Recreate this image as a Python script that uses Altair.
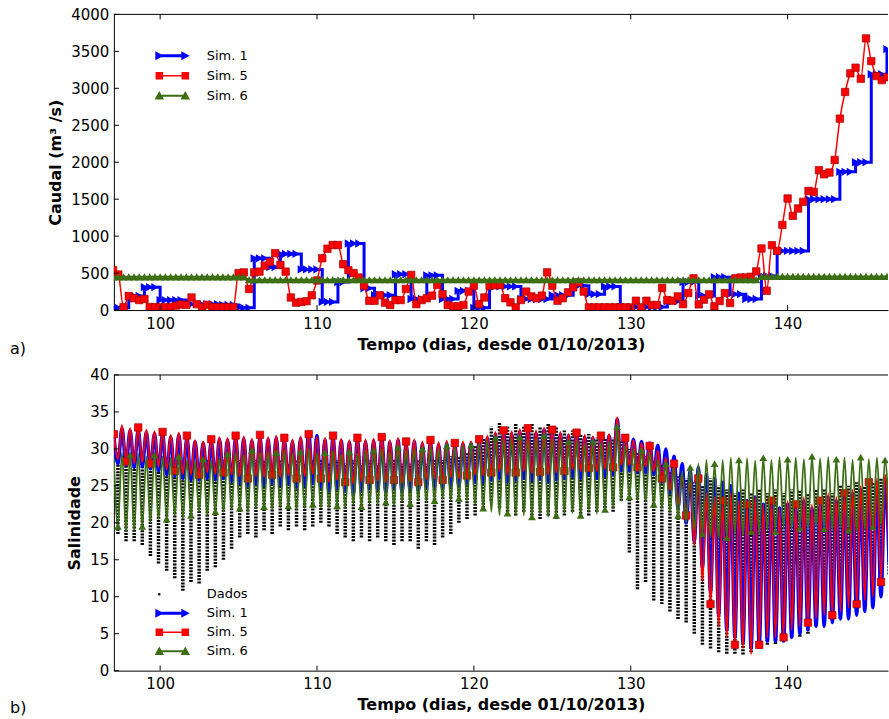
import altair as alt
import pandas as pd

# ---------------- shared ----------------
X_DOMAIN = [97.05, 146.4]
x_ticks = [100, 110, 120, 130, 140]
q_ticks = [0, 500, 1000, 1500, 2000, 2500, 3000, 3500, 4000]
s_ticks = [0, 5, 10, 15, 20, 25, 30, 35, 40]
series = ["Sim. 1", "Sim. 5", "Sim. 6"]
series_b = ["Dados", "Sim. 1", "Sim. 5", "Sim. 6"]
BLUE, RED, GREEN, BLACK = "#0000ff", "#ff0000", "#3c6e14", "#000000"
FONT = "DejaVu Sans"

# ---------------- panel a): Caudal, one sample every 1/3 day from day 97 ----------------
q_start = 97.0
q_step = 1.0 / 3.0
q_sim1 = ([30]*3 + [190]*3 + [310]*3 + [135]*5 + [80]*7 + [70]*3 + [30]*3 + [700]*3 + [580]*2
          + [760]*4 + [550]*4 + [110]*3 + [380]*2 + [900]*3 + [295]*2 + [200]*4 + [485]*3 + [150]*3
          + [470]*3 + [150]*3 + [260]*3 + [30]*3 + [320]*6 + [150]*6 + [200]*4 + [330]*3 + [215]*3
          + [320]*3 + [40]*9 + [120]*3 + [380]*3 + [190]*3 + [445]*3 + [215]*3 + [150]*3 + [460]*3
          + [800]*6 + [1500]*6 + [1870]*3 + [2000]*3 + [3190]*3 + [3530]*1)
q_sim5 = [540, 480, 40, 190, 160, 135, 150, 40, 40, 40, 40, 40, 60, 75, 70, 170, 80, 40, 70, 40,
          40, 40, 40, 40, 500, 510, 285, 510, 520, 600, 650, 770, 610, 520, 170, 100, 110, 120, 200, 400,
          700, 830, 880, 880, 620, 540, 500, 440, 330, 126, 126, 200, 100, 68, 135, 135, 285, 475, 80, 135,
          160, 195, 340, 215, 68, 50, 50, 68, 250, 330, 80, 170, 330, 335, 340, 160, 104, 36, 135, 250,
          185, 160, 195, 510, 330, 126, 160, 240, 307, 374, 250, 36, 36, 36, 36, 36, 36, 36, 36, 36,
          126, 36, 126, 68, 68, 300, 135, 126, 185, 80, 230, 430, 77, 140, 212, 50, 122, 230, 95, 430,
          440, 440, 450, 523, 833, 261, 878, 801, 1152, 1509, 1274, 1374, 1464, 1612, 1598, 1891, 1837, 1860, 2031, 2590,
          2950, 3202, 3279, 3130, 3675, 3368, 3165, 3111, 3150]
q_sim6 = [450]*26 + [410]*98 + [455]*25
assert len(q_sim1) == len(q_sim5) == len(q_sim6) == 149
q_t = [q_start + i * q_step for i in range(len(q_sim1))]

# ---------------- panel b): Salinidade, tidal highs / lows (M2 half-cycles) ----------------
s_start = 97.05
s_period = 0.5175
s_sim1_high = [31.8, 32.8, 32.5, 32.6, 32.3, 32.1, 32.0, 31.6, 31.9, 31.5, 31.0, 30.8,
               31.0, 31.3, 31.2, 31.5, 31.4, 31.1, 31.6, 31.3, 31.5, 31.2, 31.0, 31.4,
               32.2, 31.8, 31.2, 31.5, 31.1, 30.9, 31.2, 31.0, 31.1, 31.3, 30.9, 31.2,
               30.7, 31.0, 30.7, 30.9, 30.6, 30.8, 30.5, 30.7, 30.8, 31.0, 31.5, 32.0,
               32.2, 32.1, 32.4, 32.5, 32.2, 32.6, 32.3, 32.0, 31.8, 31.9, 31.6, 31.5,
               31.5, 31.8, 34.0, 31.5, 31.3, 31.0, 30.8, 30.5, 30.0, 29.0, 28.0, 27.0,
               27.5, 26.5, 26.0, 25.5, 25.0, 24.0, 23.0, 23.5, 22.5, 23.0, 22.0, 22.5,
               22.0, 23.0, 22.0, 22.5, 23.5, 23.0, 23.5, 24.0, 24.5, 25.0, 25.5, 26.0]
s_sim1_low = [28.0, 27.8, 27.5, 27.6, 27.3, 27.0, 26.5, 26.3, 26.0, 25.8, 25.8, 26.0,
              25.8, 26.0, 25.6, 25.3, 25.0, 25.2, 25.0, 25.3, 25.0, 25.2, 24.8, 25.0,
              25.3, 24.8, 24.3, 24.6, 24.3, 24.0, 24.4, 24.6, 24.5, 24.2, 24.6, 24.2,
              24.4, 24.3, 24.7, 24.8, 24.6, 25.0, 25.0, 25.3, 25.5, 25.4, 25.8, 26.0,
              25.5, 25.8, 26.0, 25.7, 25.9, 25.5, 25.8, 26.0, 26.2, 26.0, 26.4, 26.0,
              26.3, 26.5, 27.0, 27.0, 26.8, 26.8, 26.5, 25.5, 24.0, 22.0, 20.0, 17.5,
              14.0, 10.5, 7.5, 5.5, 4.5, 3.8, 3.0, 3.5, 4.0, 4.0, 4.0, 4.5,
              5.0, 5.5, 6.0, 6.0, 6.5, 7.0, 7.0, 7.5, 8.0, 8.5, 10.0, 14.5]
s_sim5_high = [32.0, 33.2, 32.8, 32.9, 32.6, 32.4, 32.3, 31.9, 32.2, 31.8, 31.2, 31.0,
               31.3, 31.6, 31.5, 31.8, 31.7, 31.4, 31.9, 31.6, 31.8, 31.5, 31.3, 31.7,
               32.0, 31.6, 31.5, 31.8, 31.4, 31.2, 31.5, 31.3, 31.4, 31.6, 31.2, 31.5,
               31.0, 31.3, 31.0, 31.2, 30.9, 31.1, 30.8, 31.0, 31.0, 31.3, 31.8, 32.3,
               32.5, 32.4, 32.7, 32.8, 32.5, 32.9, 32.6, 32.3, 32.0, 32.2, 31.9, 31.7,
               31.8, 32.0, 34.3, 31.5, 31.2, 30.8, 30.4, 29.8, 28.8, 28.0, 26.5, 25.5,
               26.0, 24.0, 23.5, 23.0, 24.0, 23.0, 22.5, 23.5, 22.5, 23.0, 22.0, 23.0,
               22.5, 23.5, 22.5, 23.0, 24.0, 23.5, 24.0, 24.5, 25.0, 25.5, 26.0, 26.5]
s_sim5_low = [28.6, 28.3, 28.0, 28.2, 28.0, 27.6, 27.2, 27.0, 26.6, 26.5, 26.5, 26.8,
              26.6, 26.8, 26.5, 26.3, 26.0, 26.3, 26.2, 26.5, 26.2, 26.4, 26.0, 26.3,
              26.6, 26.0, 25.5, 25.8, 25.5, 25.3, 25.6, 25.8, 25.7, 25.5, 25.8, 25.4,
              25.6, 25.5, 25.9, 26.0, 25.8, 26.2, 26.0, 26.4, 26.5, 26.4, 26.8, 27.0,
              26.5, 26.8, 27.0, 26.7, 26.9, 26.5, 26.8, 27.0, 27.2, 27.0, 27.4, 27.0,
              27.3, 27.5, 27.8, 27.8, 27.5, 27.6, 27.0, 26.0, 24.5, 22.5, 21.0, 17.0,
              12.0, 9.0, 6.0, 4.5, 3.5, 3.0, 2.2, 3.5, 4.5, 4.5, 4.5, 5.5,
              6.0, 6.5, 7.0, 7.5, 7.5, 8.0, 8.5, 9.0, 9.5, 10.0, 12.0, 16.0]
s_sim6_high = [28.8, 29.5, 29.2, 29.4, 29.0, 29.2, 29.0, 28.8, 29.0, 28.5, 28.3, 28.6,
               28.4, 28.8, 29.3, 29.5, 29.2, 29.8, 29.5, 29.6, 29.5, 29.8, 29.4, 29.6,
               30.0, 29.5, 29.5, 29.8, 29.3, 29.6, 29.4, 29.8, 29.8, 30.0, 29.6, 30.2,
               29.8, 30.0, 30.0, 30.3, 30.0, 30.4, 30.2, 30.5, 30.5, 30.8, 31.2, 31.5,
               31.3, 31.5, 31.6, 31.3, 31.5, 31.8, 31.4, 31.2, 31.0, 31.2, 30.8, 31.0,
               30.8, 31.0, 33.0, 30.5, 30.0, 29.8, 29.5, 28.5, 28.0, 27.5, 27.0, 27.5,
               28.0, 28.5, 28.0, 28.5, 28.8, 28.5, 28.7, 28.4, 28.8, 28.5, 28.9, 28.6,
               28.8, 28.6, 29.0, 28.7, 28.9, 28.6, 28.8, 28.5, 28.9, 28.6, 28.8, 28.5]
s_sim6_low = [19.5, 18.8, 19.0, 19.5, 20.0, 20.5, 20.5, 21.0, 20.5, 21.0, 21.5, 21.0,
              21.5, 21.5, 21.8, 22.0, 21.5, 22.0, 22.2, 21.8, 22.0, 22.3, 21.8, 22.0,
              22.5, 22.0, 22.0, 22.3, 22.0, 22.5, 22.2, 22.6, 22.5, 22.8, 22.4, 22.8,
              22.6, 23.0, 22.8, 23.0, 23.2, 23.0, 23.3, 23.0, 22.5, 22.0, 21.5, 21.0,
              21.3, 21.0, 21.0, 20.8, 21.2, 20.8, 21.0, 21.3, 21.3, 21.0, 21.5, 21.2,
              21.8, 22.0, 23.0, 23.5, 23.0, 22.8, 22.5, 22.0, 21.5, 21.0, 20.0, 19.0,
              18.5, 18.0, 17.8, 18.0, 18.5, 18.2, 18.8, 18.5, 19.0, 18.8, 19.2, 19.0,
              19.3, 19.0, 19.4, 19.2, 19.0, 19.3, 19.0, 18.8, 19.2, 19.5, 19.8, 20.0]
dados_low = [18.5, 17.5, 17.5, 17.0, 15.5, 14.5, 13.5, 12.5, 10.8, 12.0, 11.8, 13.5,
             14.0, 15.0, 16.5, 18.0, 18.5, 18.0, 19.0, 18.5, 19.5, 19.0, 19.5, 19.0,
             19.5, 20.0, 19.5, 18.5, 18.0, 17.5, 18.0, 17.5, 18.0, 17.5, 17.0, 17.5,
             17.5, 16.5, 17.5, 17.0, 18.0, 18.5, 20.0, 20.5, 21.0, 22.0, 23.0, 22.0,
             21.5, 21.0, 21.5, 21.0, 20.5, 21.0, 20.5, 21.0, 21.5, 20.8, 21.0, 21.5,
             22.0, 21.5, 23.0, 16.0, 11.0, 12.0, 9.5, 9.0, 8.0, 7.0, 6.5, 5.0,
             3.5, 3.0, 2.5, 2.3, 2.3, 2.2, 2.5, 3.0, 3.5, 3.6, 4.0, 4.5,
             4.6, 5.0, 6.0, 6.5, 7.0, 7.0, 7.5, 8.0, 9.0, 9.5, 11.0, 13.0]
dados_high = [29.5, 29.0, 29.5, 29.0, 28.5, 29.0, 28.5, 28.0, 28.5, 28.0, 28.0, 28.5,
              28.0, 28.5, 28.0, 28.5, 28.0, 28.5, 28.5, 28.0, 28.5, 28.0, 28.5, 28.0,
              28.5, 28.5, 28.0, 28.5, 28.0, 28.5, 28.0, 28.5, 28.0, 28.0, 28.5, 28.0,
              28.0, 28.5, 28.0, 28.5, 28.5, 29.0, 29.0, 29.5, 30.5, 31.5, 33.0, 33.5,
              33.0, 33.5, 33.0, 33.5, 33.0, 33.5, 33.0, 32.5, 32.5, 32.0, 32.0, 31.5,
              31.5, 31.5, 31.0, 30.0, 29.5, 29.0, 28.5, 28.0, 27.0, 26.5, 26.0, 25.5,
              25.0, 26.0, 25.0, 24.5, 24.0, 24.5, 24.0, 24.5, 24.0, 24.5, 24.0, 24.5,
              24.5, 24.0, 24.5, 24.5, 24.0, 25.0, 25.0, 25.5, 25.0, 25.5, 26.0, 26.0]
N_CYC = 96
for arr in [s_sim1_high, s_sim1_low, s_sim5_high, s_sim5_low, s_sim6_high, s_sim6_low,
            dados_low, dados_high]:
    assert len(arr) == N_CYC

# ---------------- tables ----------------
q_df = pd.DataFrame({"t": q_t, "sim1": q_sim1, "sim5": q_sim5, "sim6": q_sim6})

s_t = []
for k in range(N_CYC):
    s_t += [s_start + s_period * k, s_start + s_period * k + s_period / 2]


def tide(high, low):
    vals = []
    for h, l in zip(high, low):
        vals += [h, l]
    return pd.DataFrame({"t": s_t, "v": vals})


s1_df = tide(s_sim1_high, s_sim1_low)
s5_df = tide(s_sim5_high, s_sim5_low)
s6_df = tide(s_sim6_high, s_sim6_low)
dados_df = pd.DataFrame({"t": [s_start + s_period * k + s_period / 2 for k in range(N_CYC)],
                         "lo": dados_low, "hi": dados_high})

# ---------------- scales / axes ----------------
xs = alt.Scale(domain=X_DOMAIN, nice=False, zero=False)
x_axis = alt.Axis(values=x_ticks, format="d", title="Tempo (dias, desde 01/10/2013)",
                  titleFontWeight="bold", titleFontSize=16, labelFontSize=15,
                  ticks=False, tickSize=0, labelPadding=6, titlePadding=5, grid=False,
                  domainColor=BLACK, domainWidth=1, labelColor=BLACK, titleColor=BLACK,
                  labelFlush=False, labelFont=FONT, titleFont=FONT)


def y_axis(title, vals):
    return alt.Axis(values=vals, format="d", title=title, titleFontWeight="bold",
                    titleFontSize=16, labelFontSize=15, ticks=False, tickSize=0,
                    labelPadding=5, titlePadding=7, grid=False, domainColor=BLACK,
                    domainWidth=1, labelColor=BLACK, titleColor=BLACK, labelFlush=False,
                    labelFont=FONT, titleFont=FONT)


# legend symbols: line + two markers (custom SVG paths in symbol units)
def rect(t):
    return f"M-2.6,-{t}L2.6,-{t}L2.6,{t}L-2.6,{t}Z"


def tri_right(c):
    return f"M{c-0.8},-0.9L{c+0.9},0L{c-0.8},0.9Z"


def square(c):
    return f"M{c-0.75},-0.75L{c+0.75},-0.75L{c+0.75},0.75L{c-0.75},0.75Z"


def tri_up(c):
    return f"M{c},-0.95L{c+0.95},0.75L{c-0.95},0.75Z"


P_SIM1 = rect(0.3) + tri_right(-2.6) + tri_right(2.6)
P_SIM5 = rect(0.15) + square(-2.6) + square(2.6)
P_SIM6 = rect(0.2) + tri_up(-2.6) + tri_up(2.6)
P_DADOS = "M-2.85,0A0.25,0.25 0 1,1 -2.35,0A0.25,0.25 0 1,1 -2.85,0Z"


def legend_layer(field, names, colors, paths, lx, ly, row_pad):
    df = pd.DataFrame({field: names})
    leg = alt.Legend(orient="none", legendX=lx, legendY=ly, title=None, symbolSize=100,
                     labelFontSize=13, labelFont=FONT, labelColor=BLACK, labelOffset=28,
                     rowPadding=row_pad, symbolStrokeWidth=0, symbolOpacity=1, padding=0)
    return alt.Chart(df).mark_point(filled=True, opacity=0).encode(
        x=alt.value(0), y=alt.value(0),
        color=alt.Color(f"{field}:N", scale=alt.Scale(domain=names, range=colors), legend=leg),
        shape=alt.Shape(f"{field}:N", scale=alt.Scale(domain=names, range=paths), legend=leg),
    )


def frame(ys, yax, yvals, label, label_y):
    top = alt.Chart(pd.DataFrame({"a": [0]})).mark_rule(color=BLACK, strokeWidth=1).encode(
        x=alt.datum(X_DOMAIN[0], scale=xs, axis=x_axis), x2=alt.datum(X_DOMAIN[1]), y=alt.value(0))
    xt_df = pd.DataFrame({"v": x_ticks})
    xt_top = alt.Chart(xt_df).mark_rule(color=BLACK, strokeWidth=1).encode(
        x=alt.X("v:Q", scale=xs, axis=x_axis), y=alt.value(0), y2=alt.value(5))
    xt_bot = alt.Chart(xt_df).mark_rule(color=BLACK, strokeWidth=1).encode(
        x=alt.X("v:Q", scale=xs, axis=x_axis), y=alt.value(291), y2=alt.value(296))
    yt = alt.Chart(pd.DataFrame({"v": yvals})).mark_rule(color=BLACK, strokeWidth=1).encode(
        y=alt.Y("v:Q", scale=ys, axis=yax), x=alt.value(0), x2=alt.value(5))
    lab = alt.Chart(pd.DataFrame({"lbl": [label]})).mark_text(
        align="left", baseline="middle", fontSize=16, font=FONT, color=BLACK).encode(
        x=alt.value(-104), y=alt.value(label_y), text="lbl:N")
    return [top, xt_top, xt_bot, yt, lab]


# ---------------- panel a ----------------
qs = alt.Scale(domain=[0, 4000], nice=False)
qax = y_axis("Caudal (m³ /s)", q_ticks)
X = alt.X("t:Q", scale=xs, axis=x_axis)
base_q = alt.Chart(q_df)

a_layers = [
    base_q.mark_line(color=BLUE, strokeWidth=3, interpolate="step-after", clip=True).encode(
        x=X, y=alt.Y("sim1:Q", scale=qs, axis=qax)),
    base_q.mark_point(shape="triangle-right", filled=True, color=BLUE, size=70, opacity=1, clip=True).encode(
        x=X, y=alt.Y("sim1:Q", scale=qs, axis=qax)),
    base_q.mark_line(color=RED, strokeWidth=1.5, interpolate="monotone", clip=True).encode(
        x=X, y=alt.Y("sim5:Q", scale=qs, axis=qax)),
    base_q.mark_point(shape="square", filled=True, fill=RED, stroke="#a00000", strokeWidth=0.7,
                      size=55, opacity=1, clip=True).encode(
        x=X, y=alt.Y("sim5:Q", scale=qs, axis=qax)),
    base_q.mark_line(color=GREEN, strokeWidth=2, clip=True).encode(
        x=X, y=alt.Y("sim6:Q", scale=qs, axis=qax)),
    base_q.mark_point(shape="triangle-up", filled=True, color=GREEN, size=70, opacity=1, clip=True).encode(
        x=X, y=alt.Y("sim6:Q", scale=qs, axis=qax)),
    legend_layer("serie_a", series, [BLUE, RED, GREEN], [P_SIM1, P_SIM5, P_SIM6], 52, 35, 6),
] + frame(qs, qax, q_ticks, "a)", 335)

panel_a = alt.layer(*a_layers).properties(width=775, height=296)

# ---------------- panel b ----------------
ss = alt.Scale(domain=[0, 40], nice=False)
sax = y_axis("Salinidade", s_ticks)
Yv = alt.Y("v:Q", scale=ss, axis=sax)

b_layers = [
    alt.Chart(dados_df).mark_rule(color=BLACK, strokeWidth=3.5, strokeDash=[2, 1.2], clip=True).encode(
        x=X, y=alt.Y("lo:Q", scale=ss, axis=sax), y2="hi:Q"),
    alt.Chart(s1_df).mark_line(color=BLUE, strokeWidth=3.5, interpolate="monotone", clip=True).encode(
        x=X, y=Yv),
    alt.Chart(s5_df).mark_line(color=RED, strokeWidth=1.8, interpolate="monotone", clip=True).encode(
        x=X, y=Yv),
    alt.Chart(s5_df.iloc[0::3]).mark_point(shape="square", filled=True, fill=RED, stroke="#a00000",
                                            strokeWidth=0.7, size=55, opacity=1, clip=True).encode(
        x=X, y=Yv),
    alt.Chart(s6_df).mark_line(color=GREEN, strokeWidth=1.8, interpolate="monotone", clip=True).encode(
        x=X, y=Yv),
    alt.Chart(s6_df.iloc[1::3]).mark_point(shape="triangle-up", filled=True, color=GREEN, size=60,
                                            opacity=1, clip=True).encode(
        x=X, y=Yv),
    legend_layer("serie_b", series_b, [BLACK, BLUE, RED, GREEN],
                 [P_DADOS, P_SIM1, P_SIM5, P_SIM6], 52, 213, 5),
] + frame(ss, sax, s_ticks, "b)", 333)

panel_b = alt.layer(*b_layers).properties(width=775, height=296)

chart = alt.vconcat(panel_a, panel_b, spacing=11).resolve_scale(
    color="independent", shape="independent", x="independent", y="independent"
).properties(
    padding={"left": 10, "top": 7, "right": 0, "bottom": 0}, background="white"
).configure_view(stroke=None)

chart.save("out.html", embed_options={"renderer": "svg", "actions": False})
